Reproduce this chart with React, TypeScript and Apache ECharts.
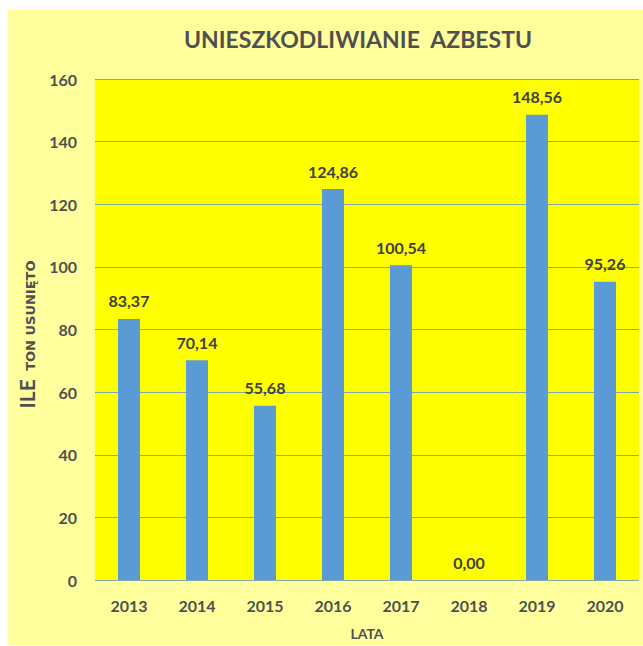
import React, { useEffect, useRef } from "react";
import * as echarts from "echarts";

const years = ["2013", "2014", "2015", "2016", "2017", "2018", "2019", "2020"];
const tonnes = [83.37, 70.14, 55.68, 124.86, 100.54, 0.0, 148.56, 95.26];
const yTicks = [0, 20, 40, 60, 80, 100, 120, 140, 160];

const TEXT = "#505050";
const FONT = "Lato";

export default function App() {
  const ref = useRef<HTMLDivElement>(null);
  useEffect(() => {
    document.body.style.margin = "0";
    const chart = echarts.init(ref.current!, null, { renderer: "svg" });
    chart.setOption({
      animation: false,
      backgroundColor: "#FFFF9E",
      textStyle: { fontFamily: FONT },
      title: {
        text: "UNIESZKODLIWIANIE  AZBESTU",
        left: 345,
        textAlign: "center",
        top: 12,
        textStyle: { fontFamily: FONT, fontSize: 23, fontWeight: "bold", color: TEXT },
      },
      grid: { left: 85, right: 4, top: 69, bottom: 60, show: true, backgroundColor: "#FFFF00", borderWidth: 0 },
      xAxis: {
        type: "category",
        data: years,
        name: "LATA",
        nameLocation: "middle",
        nameGap: 46,
        nameTextStyle: { fontFamily: FONT, fontSize: 14, fontWeight: "bold", color: TEXT },
        axisLine: { show: false },
        axisTick: { show: false },
        axisLabel: { fontFamily: FONT, fontSize: 16, fontWeight: "bold", color: TEXT, margin: 17 },
      },
      yAxis: {
        type: "value",
        min: yTicks[0],
        max: yTicks[yTicks.length - 1],
        interval: 20,
        name: "{big|ILE}{sp|   }{small|TON USUNIĘTO}",
        nameLocation: "middle",
        nameRotate: 90,
        nameGap: 58,
        nameTextStyle: {
          padding: [0, 10, 0, 0],
          rich: {
            big: { fontFamily: FONT, fontSize: 21, fontWeight: "bold", color: TEXT, verticalAlign: "bottom" },
            sp: { fontSize: 11 },
            small: { fontFamily: "DejaVu Sans", fontSize: 13, fontWeight: "bold", color: TEXT, verticalAlign: "bottom" },
          },
        },
        axisLine: { show: false },
        axisTick: { show: false },
        axisLabel: { fontFamily: FONT, fontSize: 16, fontWeight: "bold", color: TEXT, margin: 18 },
        splitLine: { lineStyle: { color: "#7FA8A8", width: 1 } },
      },
      series: [
        {
          type: "bar",
          data: tonnes,
          barWidth: 22,
          itemStyle: { color: "#5B9BD5" },
          label: {
            show: true,
            position: "top",
            distance: 10,
            fontFamily: FONT,
            fontSize: 16,
            fontWeight: "bold",
            color: "#404040",
            formatter: (p: any) => Number(p.value).toFixed(2).replace(".", ","),
          },
        },
      ],
    });
    return () => chart.dispose();
  }, []);
  return (
    <div style={{ position: "relative", width: 643, height: 646, background: "#fff" }}>
      <div ref={ref} style={{ position: "absolute", left: 8, top: 10, width: 635, height: 635 }} />
    </div>
  );
}
